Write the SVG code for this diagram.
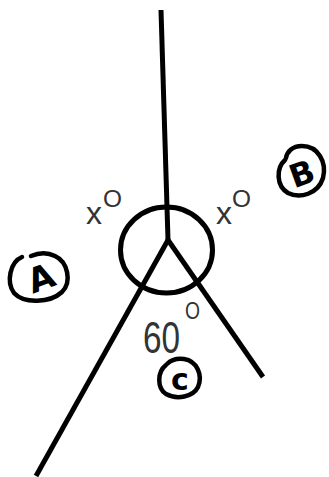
<svg xmlns="http://www.w3.org/2000/svg" width="329" height="477" viewBox="0 0 329 477">
<style>
.ln{stroke:#000;stroke-width:5;fill:none;stroke-linecap:butt;stroke-linejoin:round}
.hand{stroke:#000;stroke-width:4.5;fill:none;stroke-linecap:round}
.lbl{font-family:"Liberation Sans",Arial,sans-serif;fill:#333}
.sup{font-size:24px}
.let{font-family:"DejaVu Sans",sans-serif;font-weight:bold;fill:#000}
</style>
<rect width="329" height="477" fill="#fff"/>
<g id="connectors">
<line class="ln" x1="161" y1="10" x2="168" y2="240"/>
<line class="ln" x1="168" y1="240" x2="36" y2="476"/>
<line class="ln" x1="168" y1="240" x2="263" y2="377"/>
</g>
<g id="angle-circle">
<ellipse class="ln" cx="166.5" cy="250" rx="46" ry="43"/>
</g>
<g id="label-x-left">
<text class="lbl" x="86" y="224" font-size="32">x<tspan class="sup" x="103" y="207" textLength="19" lengthAdjust="spacingAndGlyphs">O</tspan></text>
</g>
<g id="label-x-right">
<text class="lbl" x="216" y="224" font-size="32">x<tspan class="sup" x="232" y="207" textLength="19" lengthAdjust="spacingAndGlyphs">O</tspan></text>
</g>
<g id="label-60">
<text class="lbl" x="0" y="0" font-size="34" transform="translate(143,353) scale(0.98,1.3)">60</text>
<text class="lbl sup" x="185" y="319" textLength="15" lengthAdjust="spacingAndGlyphs">O</text>
</g>
<g id="node-A">
<path class="hand" d="M22,257 C10,262 6,282 14,293 C24,304 50,303 62,292 C72,282 68,262 55,256 C47,252 38,253 31,256"/>
<text class="let" x="41" y="290" font-size="34" text-anchor="middle" transform="rotate(-20 41 278)">A</text>
</g>
<g id="node-B">
<path class="hand" d="M285,160 C276,168 276,186 288,193 C300,199 318,194 323,178 C327,162 318,146 302,146 C292,146 287,152 286,158"/>
<text class="let" x="302" y="185" font-size="32" text-anchor="middle" transform="rotate(-20 302 174)">B</text>
</g>
<g id="node-C">
<path class="hand" d="M166,365 C157,372 157,388 166,394 C177,400 193,397 198,387 C203,375 197,361 184,359 C176,358 170,361 167,364"/>
<text class="let" x="180" y="390" font-size="30" text-anchor="middle">c</text>
</g>
</svg>
